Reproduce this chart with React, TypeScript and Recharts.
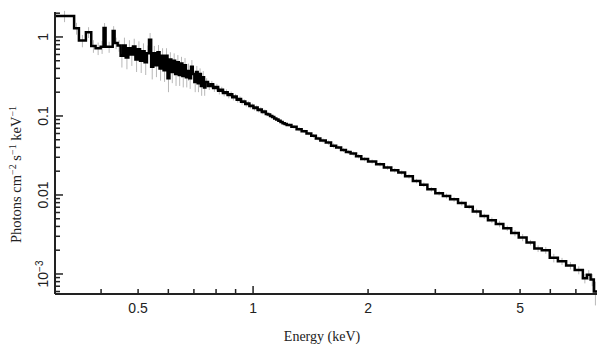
import { ComposedChart, Line, Scatter, ErrorBar, XAxis, YAxis, Label } from "recharts";

// bin lower edges (keV), flux (photons cm^-2 s^-1 keV^-1) and 1-sigma errors
const binLo = [
  0.303, 0.34, 0.35, 0.365, 0.377, 0.387, 0.399, 0.406, 0.411, 0.429, 0.434, 0.442,
  0.45, 0.457, 0.464, 0.471, 0.478, 0.485, 0.492, 0.499, 0.506, 0.513, 0.52, 0.527,
  0.534, 0.541, 0.548, 0.555, 0.562, 0.569, 0.576, 0.583, 0.59, 0.597, 0.604, 0.611,
  0.618, 0.625, 0.632, 0.639, 0.646, 0.653, 0.66, 0.667, 0.674, 0.681, 0.688, 0.695,
  0.702, 0.709, 0.716, 0.723, 0.73, 0.737, 0.744,
  0.75, 0.762, 0.774, 0.786, 0.798, 0.81, 0.822, 0.834, 0.846, 0.858, 0.87, 0.882,
  0.894, 0.906, 0.918, 0.93, 0.942, 0.954, 0.966, 0.978, 0.99, 1.002, 1.015, 1.028,
  1.041, 1.054, 1.067, 1.08, 1.094, 1.108, 1.122, 1.136, 1.15, 1.165, 1.18, 1.195,
  1.21, 1.225, 1.26, 1.3, 1.34, 1.38,
  1.42, 1.46, 1.5, 1.55, 1.6, 1.65, 1.7, 1.75, 1.8, 1.86, 1.92,
  2.0, 2.1, 2.2, 2.3, 2.4, 2.5, 2.62, 2.74, 2.86, 3.0, 3.14, 3.28,
  3.44, 3.6, 3.76, 3.94, 4.12, 4.32, 4.52, 4.74, 4.96, 5.2, 5.45, 5.7,
  5.98, 6.28, 6.6, 6.95, 7.3, 7.48, 7.65, 7.8,
];
const lastEdge = 7.95;

const flux = [
  1.84, 1.29, 0.9, 1.15, 0.77, 0.72, 0.75, 1.3, 0.75, 1.19, 0.84, 0.78,
  0.58, 0.78, 0.55, 0.72, 0.6, 0.76, 0.52, 0.7, 0.5, 0.66, 0.48, 0.62,
  0.92, 0.42, 0.62, 0.44, 0.64, 0.4, 0.58, 0.38, 0.58, 0.3, 0.52, 0.36,
  0.5, 0.34, 0.48, 0.33, 0.46, 0.32, 0.44, 0.31, 0.37, 0.3, 0.42, 0.34,
  0.27, 0.36, 0.26, 0.34, 0.24, 0.31, 0.23,
  0.27, 0.24, 0.252, 0.226, 0.232, 0.208, 0.214, 0.196, 0.199, 0.184, 0.188, 0.172,
  0.176, 0.16, 0.164, 0.151, 0.152, 0.142, 0.144, 0.134, 0.135, 0.126, 0.128, 0.119,
  0.121, 0.112, 0.114, 0.106, 0.104, 0.1, 0.097, 0.093, 0.09, 0.087, 0.084, 0.081,
  0.079, 0.077, 0.073, 0.068, 0.064, 0.06,
  0.056, 0.052, 0.049, 0.046, 0.042, 0.04, 0.037, 0.035, 0.0335, 0.031, 0.0285,
  0.0265, 0.0245, 0.0222, 0.0205, 0.0192, 0.0172, 0.015, 0.0135, 0.0118, 0.0105, 0.0097, 0.0088,
  0.0079, 0.0071, 0.0062, 0.0054, 0.0048, 0.0043, 0.0038, 0.0033, 0.0029, 0.0025, 0.0021, 0.002,
  0.0016, 0.00145, 0.00128, 0.00112, 0.00088, 0.00098, 0.00085, 0.0006,
];

const fluxErr = [
  0.3, 0.22, 0.16, 0.18, 0.14, 0.13, 0.14, 0.2, 0.12, 0.18, 0.14, 0.13,
  0.17, 0.2, 0.16, 0.19, 0.17, 0.19, 0.16, 0.18, 0.15, 0.17, 0.15, 0.16,
  0.2, 0.13, 0.15, 0.13, 0.15, 0.12, 0.14, 0.11, 0.14, 0.1, 0.12, 0.1,
  0.12, 0.1, 0.11, 0.09, 0.1, 0.09, 0.1, 0.08, 0.09, 0.08, 0.09, 0.08,
  0.07, 0.07, 0.06, 0.06, 0.06, 0.06, 0.05,
  0.03, 0.027, 0.026, 0.024, 0.023, 0.021, 0.02, 0.019, 0.018, 0.017, 0.016, 0.015,
  0.014, 0.013, 0.013, 0.012, 0.011, 0.011, 0.01, 0.01, 0.009, 0.009, 0.008, 0.008,
  0.008, 0.007, 0.007, 0.007, 0.006, 0.006, 0.006, 0.005, 0.005, 0.005, 0.005, 0.004,
  0.004, 0.004, 0.004, 0.004, 0.003, 0.003,
  0.003, 0.003, 0.003, 0.003, 0.003, 0.002, 0.002, 0.002, 0.002, 0.002, 0.0018,
  0.0016, 0.0015, 0.0014, 0.0013, 0.0012, 0.0011, 0.001, 0.0009, 0.0008, 0.0007, 0.0007, 0.0006,
  0.0006, 0.0005, 0.0005, 0.0004, 0.0004, 0.0004, 0.0003, 0.0003, 0.0003, 0.0002, 0.0002, 0.0002,
  0.0002, 0.00015, 0.00014, 0.00013, 0.00012, 0.00014, 0.00015, 0.0002,
];

const xTicks = [0.4, 0.5, 0.6, 0.7, 0.8, 0.9, 1, 2, 3, 4, 5, 6, 7];
const xMajor = [1];
const xLabels: Record<string, string> = { "0.5": "0.5", "1": "1", "2": "2", "5": "5" };

const yTicks = [
  0.0006, 0.0007, 0.0008, 0.0009,
  0.001, 0.002, 0.003, 0.004, 0.005, 0.006, 0.007, 0.008, 0.009,
  0.01, 0.02, 0.03, 0.04, 0.05, 0.06, 0.07, 0.08, 0.09,
  0.1, 0.2, 0.3, 0.4, 0.5, 0.6, 0.7, 0.8, 0.9,
  1, 2,
];
const yMajor = [0.001, 0.01, 0.1, 1];
const yLabels: Record<string, string> = { "0.01": "0.01", "0.1": "0.1", "1": "1" };

const AXIS = "#222";
const SANS = "'Liberation Sans', Arial, sans-serif";
const SERIF = "'Liberation Serif', 'Times New Roman', serif";

const stepRows = binLo
  .map((e, i) => ({ e, flux: flux[i] }))
  .concat([{ e: lastEdge, flux: flux[flux.length - 1] }]);

const errRows = binLo.map((e, i) => {
  const hi = i < binLo.length - 1 ? binLo[i + 1] : lastEdge;
  return { e: Math.sqrt(e * hi), flux: flux[i], err: fluxErr[i] };
});

function BottomTick(props: any) {
  const { x, y, payload } = props;
  const v = payload.value;
  const len = xMajor.includes(v) ? 8 : 5;
  const label = xLabels[String(v)];
  return (
    <g>
      <line x1={x} y1={y} x2={x} y2={y - len} stroke={AXIS} strokeWidth={1.5} />
      {label && (
        <text x={x} y={y + 19} textAnchor="middle" fontSize={14} fontFamily={SANS} fill="#222">
          {label}
        </text>
      )}
    </g>
  );
}

function TopTick(props: any) {
  const { x, y, payload } = props;
  const len = xMajor.includes(payload.value) ? 8 : 5;
  return <line x1={x} y1={y} x2={x} y2={y + len} stroke={AXIS} strokeWidth={1.5} />;
}

function LeftTick(props: any) {
  const { x, y, payload } = props;
  const v = payload.value;
  const major = yMajor.includes(v);
  const len = major ? 8 : 5;
  const tx = x - 7;
  let label: any = null;
  if (v === 0.001) {
    label = (
      <text x={tx} y={y} transform={`rotate(-90 ${tx} ${y})`} textAnchor="middle" fontSize={14} fontFamily={SANS} fill="#222">
        10<tspan dy={-5} fontSize={10}>−3</tspan>
      </text>
    );
  } else if (yLabels[String(v)]) {
    label = (
      <text x={tx} y={y} transform={`rotate(-90 ${tx} ${y})`} textAnchor="middle" fontSize={14} fontFamily={SANS} fill="#222">
        {yLabels[String(v)]}
      </text>
    );
  }
  return (
    <g>
      <line x1={x} y1={y} x2={x + len} y2={y} stroke={AXIS} strokeWidth={1.5} />
      {label}
    </g>
  );
}

function RightTick(props: any) {
  const { x, y, payload } = props;
  const len = yMajor.includes(payload.value) ? 8 : 5;
  return <line x1={x} y1={y} x2={x - len} y2={y} stroke={AXIS} strokeWidth={1.5} />;
}

function XTitle(props: any) {
  const vb = props.viewBox;
  return (
    <text x={vb.x + vb.width / 2 - 4} y={vb.y + 47} textAnchor="middle" fontSize={14} fontFamily={SERIF} fill="#222">
      Energy (keV)
    </text>
  );
}

function YTitle() {
  // anchored at its start (bottom of the rotated title)
  const cx = 21;
  const cy = 243;
  return (
    <text x={cx} y={cy} transform={`rotate(-90 ${cx} ${cy})`} textAnchor="start" fontSize={14.5} fontFamily={SERIF} fill="#222">
      Photons cm<tspan dy={-5} fontSize={10}>−2</tspan>
      <tspan dy={5}> s</tspan>
      <tspan dy={-5} fontSize={10}>−1</tspan>
      <tspan dy={5}> keV</tspan>
      <tspan dy={-5} fontSize={10}>−1</tspan>
    </text>
  );
}

const X_DOMAIN = [0.303, lastEdge];
const Y_DOMAIN = [0.000558, 2.07];

export default function App() {
  return (
    <div style={{ position: "absolute", left: 0, top: 0, width: 609, height: 357, background: "#fff" }}>
      <ComposedChart width={609} height={357} margin={{ top: 12, right: 12, bottom: 0, left: 0 }}>
        <XAxis
          xAxisId="bottom"
          dataKey="e"
          type="number"
          scale="log"
          domain={X_DOMAIN}
          allowDataOverflow
          ticks={xTicks}
          interval={0}
          height={63}
          tickSize={0}
          tickMargin={0}
          tickLine={false}
          tick={<BottomTick />}
          axisLine={{ stroke: AXIS, strokeWidth: 2 }}
        >
          <Label content={<XTitle />} />
        </XAxis>
        <XAxis
          xAxisId="top"
          orientation="top"
          dataKey="e"
          type="number"
          scale="log"
          domain={X_DOMAIN}
          allowDataOverflow
          ticks={xTicks}
          interval={0}
          height={0}
          tickSize={0}
          tickMargin={0}
          tickLine={false}
          tick={<TopTick />}
          axisLine={{ stroke: AXIS, strokeWidth: 2 }}
        />
        <YAxis
          yAxisId="left"
          type="number"
          scale="log"
          domain={Y_DOMAIN}
          allowDataOverflow
          ticks={yTicks}
          interval={0}
          width={55}
          tickSize={0}
          tickMargin={0}
          tickLine={false}
          tick={<LeftTick />}
          axisLine={{ stroke: AXIS, strokeWidth: 2 }}
        >
          <Label content={<YTitle />} />
        </YAxis>
        <YAxis
          yAxisId="right"
          orientation="right"
          type="number"
          scale="log"
          domain={Y_DOMAIN}
          allowDataOverflow
          ticks={yTicks}
          interval={0}
          width={0}
          tickSize={0}
          tickMargin={0}
          tickLine={false}
          tick={<RightTick />}
          axisLine={{ stroke: AXIS, strokeWidth: 2 }}
        />
        <Scatter
          xAxisId="bottom"
          yAxisId="left"
          data={errRows}
          dataKey="flux"
          shape={() => <g />}
          isAnimationActive={false}
        >
          <ErrorBar dataKey="err" direction="y" width={0} stroke="#b8b8b8" strokeWidth={1} isAnimationActive={false} />
        </Scatter>
        <Line
          xAxisId="bottom"
          yAxisId="left"
          data={stepRows}
          dataKey="flux"
          type="stepAfter"
          stroke="#000"
          strokeWidth={2.5}
          dot={false}
          activeDot={false}
          isAnimationActive={false}
        />
      </ComposedChart>
    </div>
  );
}
